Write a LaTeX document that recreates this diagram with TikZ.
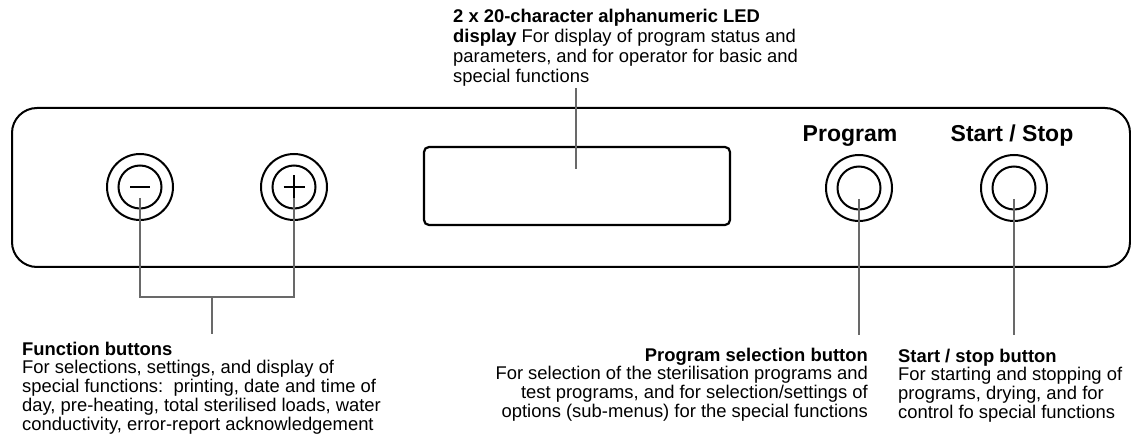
\documentclass[tikz,border=0pt]{standalone}
\usepackage{fontspec}
\setmainfont{Liberation Sans}
\usetikzlibrary{calc}
\definecolor{leadgray}{RGB}{105,105,105}
\begin{document}
\begin{tikzpicture}[x=1pt,y=-1pt,
  panel/.style={line width=2pt, rounded corners=25pt},
  screen/.style={line width=2.2pt, rounded corners=5pt},
  knobout/.style={circle, draw, line width=2pt, inner sep=0pt, minimum size=66pt},
  knobin/.style={circle, draw, line width=2pt, inner sep=0pt, minimum size=43pt},
  sign/.style={line width=2pt},
  leader/.style={draw=leadgray, line width=1.1pt},
  keylabel/.style={inner sep=0pt, anchor=base, font=\fontsize{23}{27}\selectfont\bfseries},
  note/.style={inner sep=0pt, font=\fontsize{18.4}{18.5}\selectfont},
  topnote/.style={inner sep=0pt, font=\fontsize{18.4}{20}\selectfont}]
\useasboundingbox (0,0) rectangle (1131,443);

% front panel and display window
\draw[panel] (12,108) rectangle (1130,267);
\draw[screen] (424,147) rectangle (730,225);
\coordinate (screenmid) at (576,169);

% minus / plus function buttons
\node[knobout] (minus) at (140,187) {};
\node[knobin]  (minusin) at (140,187) {};
\draw[sign] ($(minusin.center)+(-10,0)$) -- ($(minusin.center)+(10,0)$);
\node[knobout] (plus) at (294,187) {};
\node[knobin]  (plusin) at (294,187) {};
\draw[sign] ($(plusin.center)+(-10.5,0)$) -- ($(plusin.center)+(10.5,0)$);
\draw[sign] ($(plusin.center)+(0,-11.5)$) -- ($(plusin.center)+(0,11.5)$);

% program and start/stop buttons
\node[knobout] (prog) at (859,188) {};
\node[knobin]  (progin) at (859,188) {};
\node[knobout] (start) at (1014,188) {};
\node[knobin]  (startin) at (1014,188) {};
\node[keylabel] (proglabel) at (850,142) {Program};
\node[keylabel] (startlabel) at (1012,142) {Start / Stop};

% descriptions
\node[topnote, anchor=base west] (disptext) at (453,23) {\begin{tabular}[t]{@{}l@{}}
\textbf{2 x 20-character alphanumeric LED}\\
\textbf{display} For display of program status and\\
parameters, and for operator for basic and\\
special functions\end{tabular}};
\coordinate (disptip) at (576,88);

\node[note, anchor=base west] (functext) at (22,355) {\begin{tabular}[t]{@{}l@{}}
\textbf{Function buttons}\\
For selections, settings, and display of\\
special functions:\ \ printing, date and time of\\
day, pre-heating, total sterilised loads, water\\
conductivity, error-report acknowledgement\end{tabular}};

\node[note, anchor=base east] (progtext) at (868,361) {\begin{tabular}[t]{@{}r@{}}
\textbf{Program selection button}\\
For selection of the sterilisation programs and\\
test programs, and for selection/settings of\\
options (sub-menus) for the special functions\end{tabular}};

\node[note, anchor=base west] (starttext) at (898,362) {\begin{tabular}[t]{@{}l@{}}
\textbf{Start / stop button}\\
For starting and stopping of\\
programs, drying, and for\\
control fo special functions\end{tabular}};

% leader lines
\coordinate (fork) at (212,297);
\coordinate (forkend) at (212,334);
\draw[leader] ($(minusin.center)+(0,11)$) |- (fork) -| ($(plusin.center)+(0,11)$);
\draw[leader] (fork) -- (forkend);
\draw[leader] (disptip) -- (screenmid);
\coordinate (progend) at (859,335);
\coordinate (startend) at (1014,335);
\draw[leader] ($(progin.center)+(0,11)$) -- (progend);
\draw[leader] ($(startin.center)+(0,11)$) -- (startend);
\end{tikzpicture}
\end{document}
